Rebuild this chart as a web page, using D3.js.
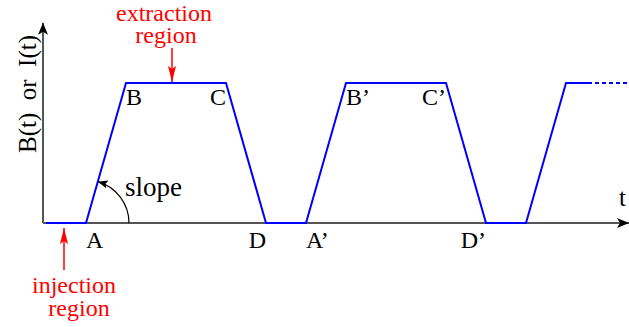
<!DOCTYPE html>
<html>
<head>
    <script src="https://d3js.org/d3.v7.min.js"></script>
    <style>
        body { margin: 0; background: #fff; }
        text { font-family: "Liberation Serif", "Times New Roman", serif; }
    </style>
</head>
<body>
    <script>
        // waveform corners (time in arbitrary units, level 0 = baseline, 1 = top)
        var waveT = [0, 2, 4, 9, 11, 13, 15, 20, 22, 24, 26, 27.1];
        var waveLevel = [0, 0, 1, 1, 0, 0, 1, 1, 0, 0, 1, 1];
        // dotted continuation at the end
        var tailT = [27.1, 29.15];
        var tailLevel = [1, 1];

        // point labels
        var labelNames = ["A", "B", "C", "D", "A’", "B’", "C’", "D’"];
        var labelT = [2, 4, 9, 11, 13, 15, 20, 22];
        var labelLevel = [0, 1, 1, 0, 0, 1, 1, 0];
        var labelSide = ["start", "start", "end", "end", "start", "start", "end", "end"];

        var width = 629;
        var height = 327;

        var x = d3.scaleLinear().domain([0, 29.15]).range([46, 629]);
        var y = d3.scaleLinear().domain([0, 1]).range([223, 83]);
        var x0 = x(-0.15);

        var svg = d3.select("body").append("svg")
            .attr("width", width)
            .attr("height", height);

        var defs = svg.append("defs");
        defs.append("marker")
            .attr("id", "axisHead")
            .attr("viewBox", "0 0 12 10")
            .attr("refX", 12).attr("refY", 5)
            .attr("markerWidth", 12).attr("markerHeight", 10)
            .attr("markerUnits", "userSpaceOnUse")
            .attr("orient", "auto")
            .append("path").attr("d", "M0,0 L12,5 L0,10 L3,5 Z").attr("fill", "#000");
        defs.append("marker")
            .attr("id", "redHead")
            .attr("viewBox", "0 0 16 8")
            .attr("refX", 16).attr("refY", 4)
            .attr("markerWidth", 16).attr("markerHeight", 8)
            .attr("markerUnits", "userSpaceOnUse")
            .attr("orient", "auto")
            .append("path").attr("d", "M0,0 L16,4 L0,8 L3,4 Z").attr("fill", "#ff0000");
        defs.append("marker")
            .attr("id", "slopeHead")
            .attr("viewBox", "0 0 10 8")
            .attr("refX", 10).attr("refY", 4)
            .attr("markerWidth", 10).attr("markerHeight", 8)
            .attr("markerUnits", "userSpaceOnUse")
            .attr("orient", "auto")
            .append("path").attr("d", "M0,0 L10,4 L0,8 L2,4 Z").attr("fill", "#000");

        // axes
        svg.append("line")
            .attr("x1", x0).attr("y1", y(0))
            .attr("x2", x0).attr("y2", y(1.43))
            .attr("stroke", "#555").attr("stroke-width", 2)
            .attr("marker-end", "url(#axisHead)");
        svg.append("line")
            .attr("x1", x0).attr("y1", y(0))
            .attr("x2", x(29.15)).attr("y2", y(0))
            .attr("stroke", "#555").attr("stroke-width", 2)
            .attr("marker-end", "url(#axisHead)");

        // waveform
        var line = d3.line()
            .x(function(d) { return x(d[0]); })
            .y(function(d) { return y(d[1]); });

        svg.append("path")
            .datum(d3.zip(waveT, waveLevel))
            .attr("d", line)
            .attr("fill", "none")
            .attr("stroke", "#0000ff")
            .attr("stroke-width", 2)
            .attr("stroke-linejoin", "miter");

        svg.append("path")
            .datum(d3.zip(tailT, tailLevel))
            .attr("d", line)
            .attr("fill", "none")
            .attr("stroke", "#0000ff")
            .attr("stroke-width", 2)
            .attr("stroke-dasharray", "4,3");

        // point labels
        svg.selectAll("text.pt")
            .data(labelNames)
            .enter().append("text")
            .attr("class", "pt")
            .attr("x", function(d, i) { return x(labelT[i]); })
            .attr("y", function(d, i) { return labelLevel[i] ? y(1) + 22 : y(0) + 25; })
            .attr("text-anchor", function(d, i) { return labelSide[i]; })
            .style("font-size", "24px")
            .text(function(d) { return d; });

        // slope arc, centred on A, ending on the rising edge
        var ax = x(2), ay = y(0);
        var bx = x(4), by = y(1);
        var ang = Math.atan2(ay - by, bx - ax);
        var r = 43;
        var ex = ax + r * Math.cos(ang), ey = ay - r * Math.sin(ang);
        svg.append("path")
            .attr("d", "M" + (ax + r) + "," + ay + " A" + r + "," + r + " 0 0 0 " + ex + "," + ey)
            .attr("fill", "none")
            .attr("stroke", "#000")
            .attr("stroke-width", 1.2)
            .attr("marker-end", "url(#slopeHead)");
        svg.append("text")
            .attr("x", 125).attr("y", 196)
            .style("font-size", "27px")
            .text("slope");

        // axis titles
        svg.append("text")
            .attr("transform", "translate(36,94) rotate(-90)")
            .attr("text-anchor", "middle")
            .style("font-size", "25px")
            .style("white-space", "pre")
            .text("B(t)  or  I(t)");
        svg.append("text")
            .attr("x", 619).attr("y", 206)
            .style("font-size", "25px")
            .text("t");

        // region annotations
        var red = "#ff0000";
        svg.append("text")
            .attr("x", 164).attr("y", 21)
            .attr("text-anchor", "middle")
            .attr("fill", red)
            .style("font-size", "24px")
            .text("extraction");
        svg.append("text")
            .attr("x", 166).attr("y", 43)
            .attr("text-anchor", "middle")
            .attr("fill", red)
            .style("font-size", "24px")
            .text("region");
        svg.append("line")
            .attr("x1", 172).attr("y1", 48)
            .attr("x2", 172).attr("y2", y(1) - 1)
            .attr("stroke", red).attr("stroke-width", 1.5)
            .attr("marker-end", "url(#redHead)");

        svg.append("text")
            .attr("x", 74).attr("y", 293)
            .attr("text-anchor", "middle")
            .attr("fill", red)
            .style("font-size", "24px")
            .text("injection");
        svg.append("text")
            .attr("x", 79).attr("y", 316)
            .attr("text-anchor", "middle")
            .attr("fill", red)
            .style("font-size", "24px")
            .text("region");
        svg.append("line")
            .attr("x1", 64).attr("y1", 270)
            .attr("x2", 64).attr("y2", 228)
            .attr("stroke", red).attr("stroke-width", 1.5)
            .attr("marker-end", "url(#redHead)");
    </script>
</body>
</html>
